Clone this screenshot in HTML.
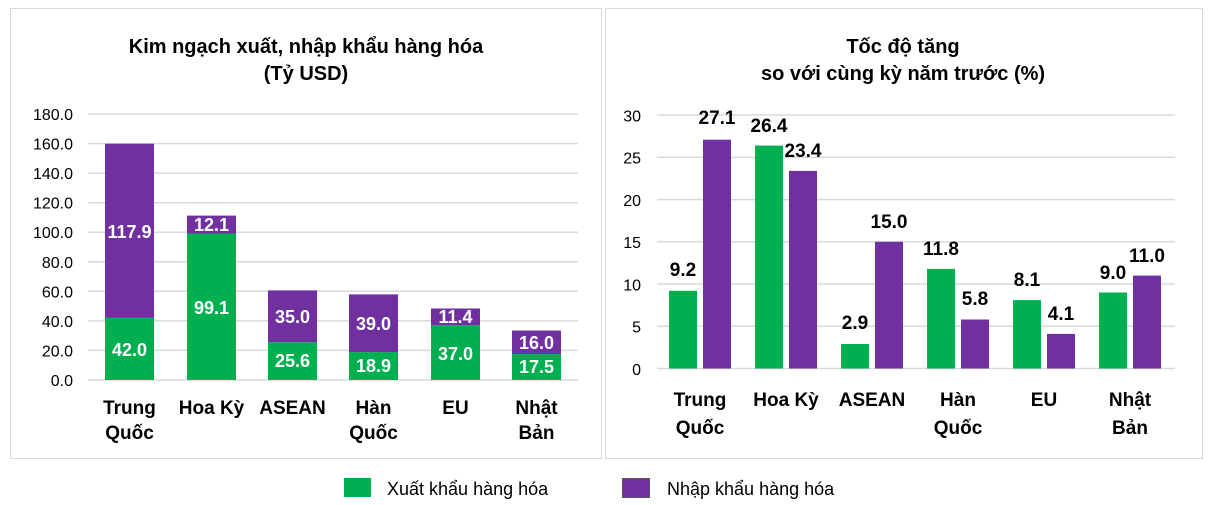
<!DOCTYPE html>
<html><head><meta charset="utf-8"><style>
body{margin:0;background:#fff;}
svg{display:block;font-family:"Liberation Sans",Arial,sans-serif;}
</style></head><body>
<svg width="1213" height="505" viewBox="0 0 1213 505">
<rect x="10.5" y="8.5" width="591" height="450" fill="none" stroke="#d9d9d9"/>
<rect x="605.5" y="8.5" width="597" height="450" fill="none" stroke="#d9d9d9"/>
<g font-weight="bold" font-size="20" text-anchor="middle" fill="#000">
<text x="306" y="53">Kim ngạch xuất, nhập khẩu hàng hóa</text>
<text x="306" y="80">(Tỷ USD)</text>
<text x="903" y="53">Tốc độ tăng</text>
<text x="903" y="80">so với cùng kỳ năm trước (%)</text>
</g>
<g stroke="#d9d9d9" stroke-width="1.5">
<line x1="88" x2="578" y1="380" y2="380"/><line x1="88" x2="578" y1="350.4" y2="350.4"/><line x1="88" x2="578" y1="320.9" y2="320.9"/><line x1="88" x2="578" y1="291.3" y2="291.3"/><line x1="88" x2="578" y1="261.8" y2="261.8"/><line x1="88" x2="578" y1="232.2" y2="232.2"/><line x1="88" x2="578" y1="202.7" y2="202.7"/><line x1="88" x2="578" y1="173.1" y2="173.1"/><line x1="88" x2="578" y1="143.6" y2="143.6"/><line x1="88" x2="578" y1="114" y2="114"/>
</g>
<g font-size="16" text-anchor="end" fill="#000">
<text x="73" y="386">0.0</text><text x="73" y="356.4">20.0</text><text x="73" y="326.9">40.0</text><text x="73" y="297.3">60.0</text><text x="73" y="267.8">80.0</text><text x="73" y="238.2">100.0</text><text x="73" y="208.7">120.0</text><text x="73" y="179.1">140.0</text><text x="73" y="149.6">160.0</text><text x="73" y="120">180.0</text>
</g>
<g fill="#00B050">
<rect x="105" y="317.9" width="49" height="62.1"/><rect x="187" y="233.5" width="49" height="146.5"/><rect x="268" y="342.2" width="49" height="37.8"/><rect x="349" y="352.1" width="49" height="27.9"/><rect x="431" y="325.3" width="49" height="54.7"/><rect x="512" y="354.1" width="49" height="25.9"/>
</g>
<g fill="#7030A0">
<rect x="105" y="143.7" width="49" height="174.2"/><rect x="187" y="215.6" width="49" height="17.9"/><rect x="268" y="290.4" width="49" height="51.8"/><rect x="349" y="294.4" width="49" height="57.7"/><rect x="431" y="308.5" width="49" height="16.8"/><rect x="512" y="330.5" width="49" height="23.6"/>
</g>
<g font-size="18" font-weight="bold" fill="#fff" text-anchor="middle">
<text x="129.5" y="356">42.0</text><text x="129.5" y="238">117.9</text>
<text x="211.5" y="314">99.1</text><text x="211.5" y="231">12.1</text>
<text x="292.5" y="367">25.6</text><text x="292.5" y="323">35.0</text>
<text x="373.5" y="372">18.9</text><text x="373.5" y="330">39.0</text>
<text x="455.5" y="360">37.0</text><text x="455.5" y="323">11.4</text>
<text x="536.5" y="373">17.5</text><text x="536.5" y="349">16.0</text>
</g>
<g font-size="19" font-weight="bold" fill="#000" text-anchor="middle">
<text x="129.5" y="414">Trung</text><text x="129.5" y="439">Quốc</text>
<text x="211.5" y="414">Hoa Kỳ</text>
<text x="292.5" y="414">ASEAN</text>
<text x="373.5" y="414">Hàn</text><text x="373.5" y="439">Quốc</text>
<text x="455.5" y="414">EU</text>
<text x="536.5" y="414">Nhật</text><text x="536.5" y="439">Bản</text>
</g>
<g stroke="#d9d9d9" stroke-width="1.5">
<line x1="657" x2="1175" y1="368.5" y2="368.5"/><line x1="657" x2="1175" y1="326.3" y2="326.3"/><line x1="657" x2="1175" y1="284.1" y2="284.1"/><line x1="657" x2="1175" y1="241.8" y2="241.8"/><line x1="657" x2="1175" y1="199.6" y2="199.6"/><line x1="657" x2="1175" y1="157.4" y2="157.4"/><line x1="657" x2="1175" y1="115" y2="115"/>
</g>
<g font-size="16" text-anchor="end" fill="#000">
<text x="641" y="375">0</text><text x="641" y="332.5">5</text><text x="641" y="290.3">10</text><text x="641" y="248">15</text><text x="641" y="205.8">20</text><text x="641" y="163.6">25</text><text x="641" y="121.3">30</text>
</g>
<g fill="#00B050">
<rect x="669" y="290.8" width="28" height="77.7"/><rect x="755" y="145.6" width="28" height="222.9"/><rect x="841" y="344" width="28" height="24.5"/><rect x="927" y="268.9" width="28" height="99.6"/><rect x="1013" y="300.1" width="28" height="68.4"/><rect x="1099" y="292.5" width="28" height="76"/>
</g>
<g fill="#7030A0">
<rect x="703" y="139.7" width="28" height="228.8"/><rect x="789" y="170.9" width="28" height="197.6"/><rect x="875" y="241.8" width="28" height="126.7"/><rect x="961" y="319.5" width="28" height="49"/><rect x="1047" y="333.9" width="28" height="34.6"/><rect x="1133" y="275.6" width="28" height="92.9"/>
</g>
<g font-size="19" font-weight="bold" fill="#000" text-anchor="middle">
<text x="683" y="276">9.2</text><text x="717" y="124">27.1</text>
<text x="769" y="132">26.4</text><text x="803" y="157">23.4</text>
<text x="855" y="329">2.9</text><text x="889" y="228">15.0</text>
<text x="941" y="255">11.8</text><text x="975" y="305">5.8</text>
<text x="1027" y="286">8.1</text><text x="1061" y="320">4.1</text>
<text x="1113" y="279">9.0</text><text x="1147" y="262">11.0</text>
</g>
<g font-size="19" font-weight="bold" fill="#000" text-anchor="middle">
<text x="700" y="406">Trung</text><text x="700" y="434">Quốc</text>
<text x="786" y="406">Hoa Kỳ</text>
<text x="872" y="406">ASEAN</text>
<text x="958" y="406">Hàn</text><text x="958" y="434">Quốc</text>
<text x="1044" y="406">EU</text>
<text x="1130" y="406">Nhật</text><text x="1130" y="434">Bản</text>
</g>
<rect x="344" y="478" width="27" height="19" fill="#00B050"/>
<text x="387" y="495" font-size="18" fill="#000">Xuất khẩu hàng hóa</text>
<rect x="622.5" y="478.5" width="27" height="19" fill="#7030A0" stroke="#444" stroke-width="0.8"/>
<text x="667" y="495" font-size="18" fill="#000">Nhập khẩu hàng hóa</text>
</svg>
</body></html>
